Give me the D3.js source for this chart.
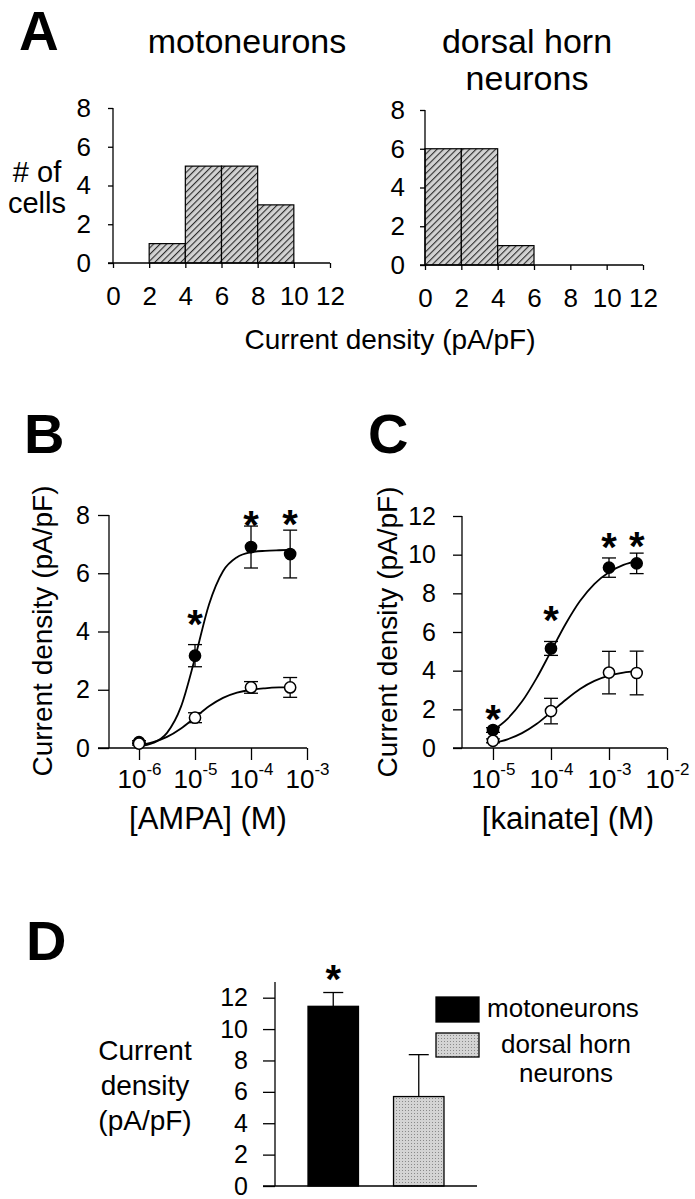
<!DOCTYPE html>
<html><head><meta charset="utf-8">
<script src="https://cdn.jsdelivr.net/npm/d3@7"></script>
<style>body{margin:0;background:#fff}svg{display:block}</style>
</head><body>
<script>
// ---------- Panel A: histograms ----------
const binEdges = [0, 2, 4, 6, 8, 10, 12];
const motoCounts = [0, 1, 5, 5, 3, 0];
const dorsalCounts = [6, 6, 1, 0, 0, 0];
const histYTicks = [0, 2, 4, 6, 8];
const histXTicks = [0, 2, 4, 6, 8, 10, 12];

// ---------- Panel B: AMPA ----------
const ampaConc = [1e-6, 1e-5, 1e-4, 5e-4];
const ampaMoto = [0.2, 3.17, 6.9, 6.66];
const ampaMotoErr = [0.05, 0.38, 0.72, 0.82];
const ampaDorsal = [0.15, 1.04, 2.08, 2.08];
const ampaDorsalErr = [0.05, 0.17, 0.2, 0.34];
const ampaStars = [null, 4.55, 7.93, 7.97];
const ampaFitLog = [-6, -5.75, -5.5, -5.25, -5, -4.75, -4.5, -4.25, -4, -3.75, -3.5, -3.3];
const ampaMotoFit = [0.06, 0.17, 0.52, 1.42, 3.09, 4.93, 6.07, 6.55, 6.72, 6.77, 6.79, 6.8];
const ampaDorsalFit = [0.10, 0.20, 0.38, 0.67, 1.05, 1.43, 1.72, 1.90, 2.0, 2.05, 2.08, 2.09];
const ampaXTickExp = [-6, -5, -4, -3];
const ampaYTicks = [0, 2, 4, 6, 8];

// ---------- Panel C: kainate ----------
const kaiConc = [1e-5, 1e-4, 1e-3, 3e-3];
const kaiMoto = [0.93, 5.15, 9.33, 9.55];
const kaiMotoErr = [0.12, 0.36, 0.5, 0.53];
const kaiDorsal = [0.37, 1.91, 3.9, 3.88];
const kaiDorsalErr = [0.1, 0.66, 1.1, 1.13];
const kaiStars = [1.96, 7.03, 10.85, 10.9];
const kaiFitLog = [-5, -4.75, -4.5, -4.25, -4, -3.75, -3.5, -3.25, -3, -2.75, -2.52];
const kaiMotoFit = [0.91, 1.51, 2.40, 3.60, 5.0, 6.40, 7.60, 8.49, 9.09, 9.47, 9.68];
const kaiDorsalFit = [0.25, 0.45, 0.77, 1.24, 1.85, 2.48, 3.05, 3.47, 3.74, 3.90, 3.99];
const kaiXTickExp = [-5, -4, -3, -2];
const kaiYTicks = [0, 2, 4, 6, 8, 10, 12];

// ---------- Panel D ----------
const dCategories = ["motoneurons", "dorsal horn neurons"];
const dValues = [11.45, 5.7];
const dErrors = [0.88, 2.67];
const dStars = [13.7, null];
const dYTicks = [0, 2, 4, 6, 8, 10, 12];

const FONT = "'Liberation Sans', Arial, Helvetica, sans-serif";
const svg = d3.select("body").append("svg")
  .attr("width", 695).attr("height", 1199)
  .attr("font-family", FONT);

const defs = svg.append("defs");
const hatch = defs.append("pattern").attr("id", "hatch")
  .attr("patternUnits", "userSpaceOnUse").attr("width", 4.6).attr("height", 4.6)
  .attr("patternTransform", "rotate(45)");
hatch.append("rect").attr("width", 4.6).attr("height", 4.6).attr("fill", "#d3d3d3");
hatch.append("line").attr("x1", 0.6).attr("y1", 0).attr("x2", 0.6).attr("y2", 4.6)
  .attr("stroke", "#1a1a1a").attr("stroke-width", 1);
const stip = defs.append("pattern").attr("id", "stip")
  .attr("patternUnits", "userSpaceOnUse").attr("width", 3).attr("height", 3);
stip.append("rect").attr("width", 3).attr("height", 3).attr("fill", "#d4d4d4");
stip.append("rect").attr("width", 1).attr("height", 1).attr("fill", "#8a8a8a");

function styleAxis(g, fs) {
  g.select(".domain").remove();
  g.selectAll(".tick line").attr("stroke", "#000").attr("stroke-width", 1.3);
  g.selectAll(".tick text").attr("fill", "#000").attr("font-size", fs).attr("font-family", FONT);
}
function hline(g, x1, x2, y) {
  g.append("line").attr("x1", x1).attr("x2", x2).attr("y1", y).attr("y2", y)
    .attr("stroke", "#000").attr("stroke-width", 1.3);
}
function vline(g, x, y1, y2) {
  g.append("line").attr("x1", x).attr("x2", x).attr("y1", y1).attr("y2", y2)
    .attr("stroke", "#000").attr("stroke-width", 1.3);
}
function label(txt, x, y, fs, opts = {}) {
  const t = svg.append("text").attr("x", x).attr("y", y).attr("font-size", fs)
    .attr("text-anchor", opts.anchor || "middle").attr("fill", "#000").text(txt);
  if (opts.bold) t.attr("font-weight", "bold");
  return t;
}
function star(g, x, yc, fs = 40) {
  g.append("text").attr("x", x).attr("y", yc + 0.56 * fs).attr("font-size", fs)
    .attr("font-weight", "bold").attr("text-anchor", "middle").text("*");
}

// ---------- Panel A ----------
function drawHist(counts, x0, x1, yB, yT, labelEnd) {
  const x = d3.scaleLinear().domain([0, 12]).range([x0, x1]);
  const y = d3.scaleLinear().domain([0, 8]).range([yB, yT]);
  const g = svg.append("g");
  const bins = counts.map((c, i) => ({ c, a: binEdges[i], b: binEdges[i + 1] })).filter(d => d.c > 0);
  g.selectAll("rect").data(bins).join("rect")
    .attr("x", d => x(d.a)).attr("width", d => x(d.b) - x(d.a))
    .attr("y", d => y(d.c)).attr("height", d => y(0) - y(d.c))
    .attr("fill", "url(#hatch)").attr("stroke", "#000").attr("stroke-width", 1.2);
  const ya = g.append("g").attr("transform", `translate(${x0},0)`)
    .call(d3.axisLeft(y).tickValues(histYTicks).tickSize(5).tickPadding(x0 - 5 - labelEnd));
  styleAxis(ya, 26);
  const xa = g.append("g").attr("transform", `translate(0,${yB})`)
    .call(d3.axisBottom(x).tickValues(histXTicks).tickSize(5).tickPadding(19));
  styleAxis(xa, 26);
  vline(g, x0, yB, yT);
  hline(g, x0 - 5, x1, yB);
}
drawHist(motoCounts, 113, 330, 263, 108, 91);
drawHist(dorsalCounts, 425, 643, 265, 110, 405);

label("A", 19, 50, 55, { anchor: "start", bold: true });
label("motoneurons", 247, 53, 34);
label("dorsal horn", 527, 53, 34);
label("neurons", 527, 90, 34);
label("# of", 37, 182, 29);
label("cells", 37, 213, 29);
label("Current density (pA/pF)", 390, 349, 28);

// ---------- Panels B & C ----------
function drawDR(p) {
  const g = svg.append("g");
  const x = p.x, y = p.y;
  const ya = g.append("g").attr("transform", `translate(${p.axisX},0)`)
    .call(d3.axisLeft(y).tickValues(p.yTicks).tickSize(p.yTick).tickPadding(p.yPad));
  styleAxis(ya, 25);
  const xa = g.append("g").attr("transform", `translate(0,${p.axisY})`)
    .call(d3.axisBottom(x).tickValues(p.xExp.map(e => Math.pow(10, e))).tickSize(12).tickPadding(10).tickFormat(() => ""));
  styleAxis(xa, 26);
  xa.selectAll(".tick text").each(function (d) {
    const t = d3.select(this);
    t.append("tspan").text("10");
    t.append("tspan").attr("dy", -13).attr("font-size", 17).text(String(Math.round(Math.log10(d))));
  });
  vline(g, p.axisX, y.range()[0], y.range()[1]);
  hline(g, p.axisX - p.yTick, x.range()[1], p.axisY);

  const line = d3.line().x(d => x(Math.pow(10, d[0]))).y(d => y(d[1])).curve(d3.curveMonotoneX);
  g.append("path").datum(d3.zip(p.fitLog, p.motoFit)).attr("d", line)
    .attr("fill", "none").attr("stroke", "#000").attr("stroke-width", 1.8);
  g.append("path").datum(d3.zip(p.fitLog, p.dorsalFit)).attr("d", line)
    .attr("fill", "none").attr("stroke", "#000").attr("stroke-width", 1.8);

  function series(vals, errs, filled) {
    p.conc.forEach((c, i) => {
      const cx = x(c), v = vals[i], e = errs[i];
      vline(g, cx, y(v - e), y(v + e));
      hline(g, cx - 7, cx + 7, y(v - e));
      hline(g, cx - 7, cx + 7, y(v + e));
    });
    g.append("g").selectAll("circle").data(p.conc).join("circle")
      .attr("cx", d => x(d)).attr("cy", (d, i) => y(vals[i])).attr("r", 5.6)
      .attr("fill", filled ? "#000" : "#fff").attr("stroke", "#000").attr("stroke-width", 1.5);
  }
  series(p.moto, p.motoErr, true);
  series(p.dorsal, p.dorsalErr, false);
  p.conc.forEach((c, i) => { if (p.stars[i] != null) star(g, x(c), y(p.stars[i])); });
}

drawDR({
  x: d3.scaleLog().domain([Math.pow(10, -6.536), 1e-3]).range([109, 307]),
  y: d3.scaleLinear().domain([0, 8]).range([748, 515]),
  axisX: 109, axisY: 748, yTick: 11, yPad: 8,
  yTicks: ampaYTicks, xExp: ampaXTickExp,
  conc: ampaConc, moto: ampaMoto, motoErr: ampaMotoErr,
  dorsal: ampaDorsal, dorsalErr: ampaDorsalErr, stars: ampaStars,
  fitLog: ampaFitLog, motoFit: ampaMotoFit, dorsalFit: ampaDorsalFit
});
drawDR({
  x: d3.scaleLog().domain([Math.pow(10, -5.534), 1e-2]).range([462, 667]),
  y: d3.scaleLinear().domain([0, 12]).range([748, 516]),
  axisX: 462, axisY: 748, yTick: 9, yPad: 17,
  yTicks: kaiYTicks, xExp: kaiXTickExp,
  conc: kaiConc, moto: kaiMoto, motoErr: kaiMotoErr,
  dorsal: kaiDorsal, dorsalErr: kaiDorsalErr, stars: kaiStars,
  fitLog: kaiFitLog, motoFit: kaiMotoFit, dorsalFit: kaiDorsalFit
});

label("B", 24, 453, 56, { anchor: "start", bold: true });
label("C", 368, 453, 56, { anchor: "start", bold: true });
svg.append("text").attr("transform", "translate(52,631) rotate(-90)")
  .attr("font-size", 28).attr("text-anchor", "middle").text("Current density (pA/pF)");
svg.append("text").attr("transform", "translate(397,632) rotate(-90)")
  .attr("font-size", 28).attr("text-anchor", "middle").text("Current density (pA/pF)");
label("[AMPA] (M)", 208, 829, 31);
label("[kainate] (M)", 568, 829, 31);

// ---------- Panel D ----------
{
  const g = svg.append("g");
  const x = d3.scaleBand().domain(dCategories).range([275, 477]).paddingInner(0.41).paddingOuter(0.386);
  const y = d3.scaleLinear().domain([0, 13]).range([1186, 982]);
  const fills = ["#000", "url(#stip)"];
  g.selectAll("rect").data(dCategories).join("rect")
    .attr("x", d => x(d)).attr("width", x.bandwidth())
    .attr("y", (d, i) => y(dValues[i])).attr("height", (d, i) => y(0) - y(dValues[i]))
    .attr("fill", (d, i) => fills[i]).attr("stroke", "#000").attr("stroke-width", 1.3);
  dCategories.forEach((c, i) => {
    const cx = x(c) + x.bandwidth() / 2;
    vline(g, cx, y(dValues[i]), y(dValues[i] + dErrors[i]));
    hline(g, cx - 10, cx + 10, y(dValues[i] + dErrors[i]));
    if (dStars[i] != null) star(g, cx, y(dStars[i]));
  });
  const ya = g.append("g").attr("transform", "translate(275,0)")
    .call(d3.axisLeft(y).tickValues(dYTicks).tickSize(12).tickPadding(15));
  styleAxis(ya, 25);
  vline(g, 275, y(0), y(13));
  hline(g, 263, 477, y(0));

  // legend
  g.append("rect").attr("x", 436).attr("y", 997).attr("width", 43).attr("height", 25)
    .attr("fill", "#000").attr("stroke", "#000").attr("stroke-width", 1.3);
  g.append("rect").attr("x", 436).attr("y", 1033).attr("width", 43).attr("height", 24)
    .attr("fill", "url(#stip)").attr("stroke", "#000").attr("stroke-width", 1.3);
}
label("D", 26, 960, 56, { anchor: "start", bold: true });
label("motoneurons", 563, 1017, 26);
label("dorsal horn", 566, 1053, 26);
label("neurons", 566, 1082, 26);
label("Current", 145, 1060, 28);
label("density", 145, 1095, 28);
label("(pA/pF)", 145, 1130, 28);
</script>
</body></html>
